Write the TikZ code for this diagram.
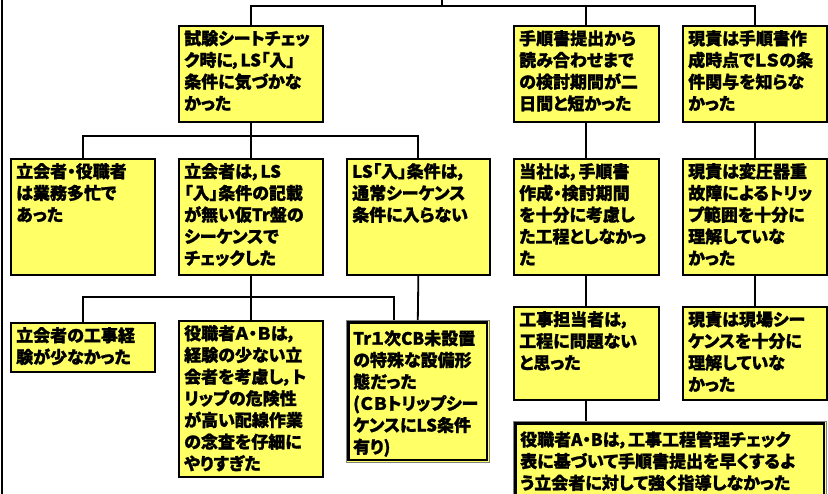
\documentclass[tikz,border=0pt]{standalone}
\usepackage{fontspec}
\setmainfont{Noto Sans CJK JP}[RawFeature=+palt,BoldFeatures={FakeBold=1.2}]
\definecolor{boxy}{HTML}{FFFF66}
\tikzset{
 box/.style={draw=black, line width=1.7pt, fill=boxy, inner sep=0pt, anchor=north west},
 thickbox/.style={draw=gray, line width=0.6pt, fill=boxy, inner sep=0pt, anchor=north west},
 txt/.style={anchor=north west, inner sep=0pt, align=left, font=\fontsize{17}{21.7}\selectfont\bfseries},
 conn/.style={draw=black, line width=1.8pt},
}
\newcommand\mybox[6]{%
 \node[box, minimum width=#4pt, minimum height=#5pt] (#1) at (#2,#3) {};
 \node[txt] (#1t) at ([shift={(6,5)}]#1.north west) {#6};
}
\newcommand\mythick[6]{%
 \node[thickbox, minimum width=#4pt, minimum height=#5pt] (#1) at (#2,#3) {};
 \draw[line width=2.6pt] ([shift={(2.6,2.6)}]#1.north west) rectangle ([shift={(-2.6,-2.6)}]#1.south east);
 \node[txt] (#1t) at ([shift={(7,10)}]#1.north west) {#6};
}
\begin{document}
\begin{tikzpicture}[x=1pt,y=-1pt]
\useasboundingbox (0,0) rectangle (828,494);
\clip (0,0) rectangle (828,494);
\fill[white] (0,0) rectangle (828,494);

\mybox{B1}{178}{25}{144}{96}{試験シートチェッ\\ク時に，LS「入」\\条件に気づかな\\かった}
\mybox{B2}{513}{25}{145}{96}{手順書提出から\\読み合わせまで\\の検討期間が二\\日間と短かった}
\mybox{B3}{682}{25}{144}{96}{現責は手順書作\\成時点でＬＳの条\\件関与を知らな\\かった}

\mybox{C1}{10}{158}{144}{116}{立会者・役職者\\は業務多忙で\\あった}
\mybox{C2}{178}{158}{144}{116}{立会者は，LS\\「入」条件の記載\\が無い仮Tr盤の\\シーケンスで\\チェックした}
\mybox{C3}{346}{158}{143}{116}{LS「入」条件は，\\通常シーケンス\\条件に入らない}
\mybox{C4}{513}{158}{145}{116}{当社は，手順書\\作成・検討期間\\を十分に考慮し\\た工程としなかっ\\た}
\mybox{C5}{682}{158}{144}{116}{現責は変圧器重\\故障によるトリッ\\プ範囲を十分に\\理解していな\\かった}

\mybox{D1}{10}{322}{144}{49}{立会者の工事経\\験が少なかった}
\mybox{D2}{178}{320}{144}{156}{役職者Ａ・Ｂは，\\経験の少ない立\\会者を考慮し，ト\\リップの危険性\\が高い配線作業\\の念査を仔細に\\やりすぎた}
\mythick{D3}{346}{320}{143}{142}{Tr１次CB未設置\\の特殊な設備形\\態だった\\(ＣＢトリップシー\\ケンスにLS条件\\有り)}

\mybox{E1}{513}{306}{145}{93}{工事担当者は，\\工程に問題ない\\と思った}
\mybox{E2}{682}{306}{144}{93}{現責は現場シー\\ケンスを十分に\\理解していな\\かった}
\mythick{F}{513}{421}{313}{84}{役職者A・Bは，工事工程管理チェック\\表に基づいて手順書提出を早くするよ\\う立会者に対して強く指導しなかった}

% connectors
\coordinate (top) at (442,0);
\coordinate (tb) at (442,6);
\coordinate (lt) at (2,0);
\coordinate (lb) at (2,494);
\coordinate (bus1) at (250,136);
\coordinate (bus2) at (250,297);
\draw[conn] (lt) -- (lb);
\draw[conn] (top) -- (tb);
\draw[conn] (B1.north) |- (tb) -| (B3.north);
\draw[conn] (B2.north) -- (B2.north |- tb);
\draw[conn] (B1.south) -- (C2.north);
\draw[conn] (C1.north) |- (bus1) -| (C3.north);
\draw[conn] (C2.south) -- (D2.north);
\draw[conn] (D1.north) |- (bus2) -| ([xshift=-23.5]D3.north);
\draw[conn] (C3.south) -- (D3.north);
\draw[conn] (B2.south) -- (C4.north);
\draw[conn] (C4.south) -- (E1.north);
\draw[conn] (E1.south) -- (F.north -| E1.south);
\draw[conn] (B3.south) -- (C5.north);
\draw[conn] (C5.south) -- (E2.north);
\end{tikzpicture}
\end{document}
